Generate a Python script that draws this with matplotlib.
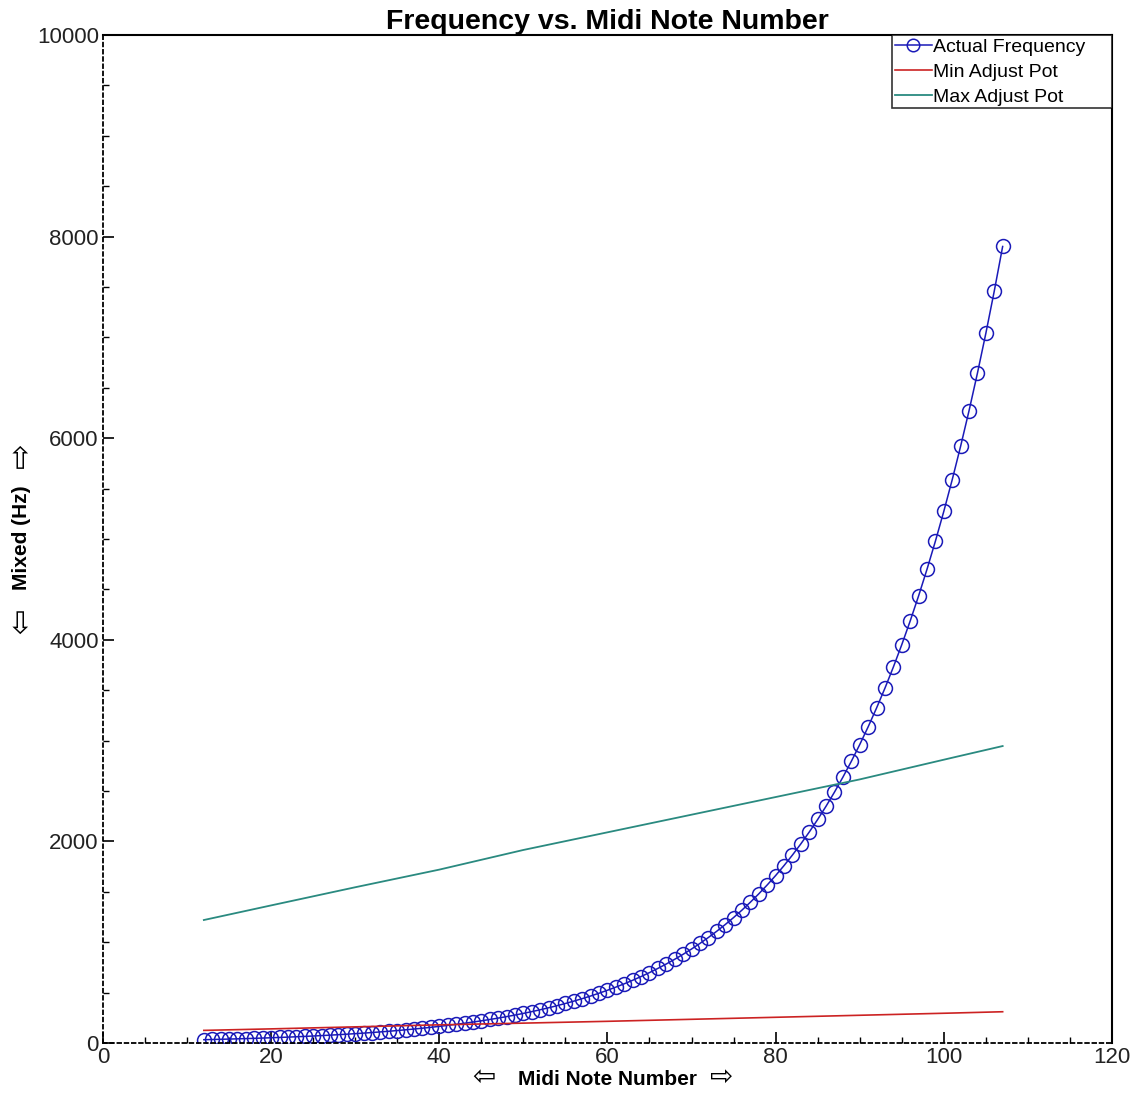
import numpy as np
import matplotlib.pyplot as plt
from matplotlib.ticker import MultipleLocator

# midi notes and measured values
notes = np.arange(12, 108)
actual_freq = [
    32.70, 34.65, 36.71, 38.89, 41.20, 43.65, 46.25, 49.00, 51.91, 55.00, 58.27, 61.74,
    65.41, 69.30, 73.42, 77.78, 82.41, 87.31, 92.50, 98.00, 103.83, 110.00, 116.54, 123.47,
    130.81, 138.59, 146.83, 155.56, 164.81, 174.61, 185.00, 196.00, 207.65, 220.00, 233.08, 246.94,
    261.63, 277.18, 293.66, 311.13, 329.63, 349.23, 369.99, 392.00, 415.30, 440.00, 466.16, 493.88,
    523.25, 554.37, 587.33, 622.25, 659.26, 698.46, 739.99, 783.99, 830.61, 880.00, 932.33, 987.77,
    1046.50, 1108.73, 1174.66, 1244.51, 1318.51, 1396.91, 1479.98, 1567.98, 1661.22, 1760.00, 1864.66, 1975.53,
    2093.00, 2217.46, 2349.32, 2489.02, 2637.02, 2793.83, 2959.96, 3135.96, 3322.44, 3520.00, 3729.31, 3951.07,
    4186.01, 4434.92, 4698.64, 4978.03, 5274.04, 5587.65, 5919.91, 6271.93, 6644.88, 7040.00, 7458.62, 7902.13,
]

pot_notes = [12, 20, 30, 40, 50, 60, 70, 80, 90, 101, 107]
min_pot = [125, 140, 160, 180, 197, 215, 235, 255, 275, 297, 310]
max_pot = [1220, 1365, 1545, 1720, 1915, 2090, 2265, 2440, 2615, 2830, 2946]

fig = plt.figure(figsize=(11.35, 10.95), dpi=100)
ax = fig.add_axes([0.0907, 0.0475, 0.889, 0.9205])

ax.plot(notes, actual_freq, '-o', color='#1a1ab8', lw=1.1, ms=10, mfc='none', mew=1.1,
        label='Actual Frequency')
ax.plot(pot_notes, min_pot, color='#cc2222', lw=1.2, label='Min Adjust Pot')
ax.plot(pot_notes, max_pot, color='#2a8a80', lw=1.3, label='Max Adjust Pot')

ax.set_xlim(0, 120)
ax.set_ylim(0, 10000)
ax.xaxis.set_major_locator(MultipleLocator(20))
ax.xaxis.set_minor_locator(MultipleLocator(5))
ax.yaxis.set_major_locator(MultipleLocator(2000))
ax.yaxis.set_minor_locator(MultipleLocator(500))
ax.tick_params(which='major', direction='in', length=8, width=1.2, labelsize=16,
               labelcolor='#222222', pad=3)
ax.tick_params(which='minor', direction='in', length=4, width=1)
for lab in ax.get_xticklabels() + ax.get_yticklabels():
    lab.set_family('Liberation Sans')

for side in ['left', 'bottom']:
    ax.spines[side].set_linestyle((0, (2, 2)))
    ax.spines[side].set_linewidth(1.3)
for side in ['top', 'right']:
    ax.spines[side].set_linewidth(1.5)

ax.set_title('Frequency vs. Midi Note Number', fontsize=20.5, fontweight='bold',
             family='Liberation Sans', pad=1)

# axis labels with big outline arrows either side
ax.text(0.5, -0.036, 'Midi Note Number', transform=ax.transAxes, ha='center', va='center',
        fontsize=15, fontweight='bold', family='Liberation Sans')
ax.text(0.378, -0.034, '\u21e6', transform=ax.transAxes, ha='center', va='center',
        fontsize=20, family='DejaVu Sans')
ax.text(0.613, -0.034, '\u21e8', transform=ax.transAxes, ha='center', va='center',
        fontsize=20, family='DejaVu Sans')
ax.text(-0.081, 0.501, 'Mixed (Hz)', transform=ax.transAxes, ha='center', va='center',
        rotation=90, fontsize=15, fontweight='bold', family='Liberation Sans')
ax.text(-0.081, 0.418, '\u21e6', transform=ax.transAxes, ha='center', va='center',
        rotation=90, fontsize=22, family='DejaVu Sans')
ax.text(-0.081, 0.583, '\u21e8', transform=ax.transAxes, ha='center', va='center',
        rotation=90, fontsize=22, family='DejaVu Sans')

leg = ax.legend(loc='upper right', bbox_to_anchor=(0.782, 0, 0.218, 1.0), mode='expand',
                prop={'family': 'Liberation Sans', 'size': 14},
                frameon=True, fancybox=False, borderaxespad=0, handlelength=1.9,
                handletextpad=0.05, labelspacing=0.38, borderpad=0.15, markerscale=0.9)
leg.get_frame().set_edgecolor('black')
leg.get_frame().set_linewidth(1.2)

fig.savefig('out.png', dpi=100)
